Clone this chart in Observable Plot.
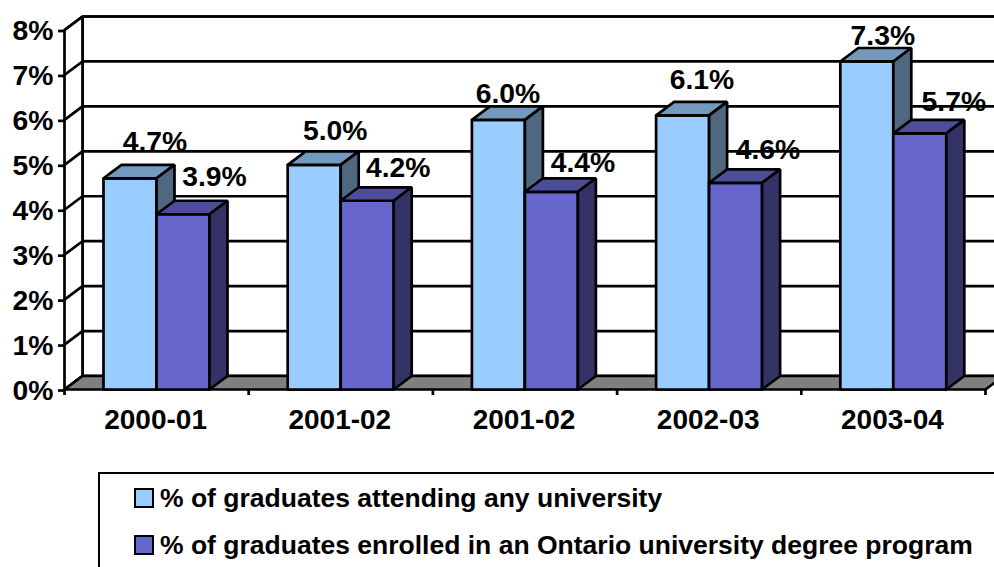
<!DOCTYPE html>
<html><head><meta charset="utf-8">
<script src="https://cdn.jsdelivr.net/npm/d3@7"></script>
<script src="https://cdn.jsdelivr.net/npm/@observablehq/plot@0.6"></script>
<style>
html,body{margin:0;padding:0;background:#fff;overflow:hidden;width:994px;height:567px}
#legend{position:absolute;left:98px;top:472px;width:1000px;height:200px;border:2px solid #000;box-sizing:border-box;font:bold 26.5px "Liberation Sans",Arial,sans-serif;color:#000}
.row{position:absolute;left:60px;white-space:nowrap;line-height:28px;height:28px}
.sw{position:absolute;left:-26px;top:4px;width:20px;height:20px;border:2.5px solid #000;box-sizing:border-box}
</style></head><body>
<div id="chart"></div>
<div id="legend"></div>
<script>
const categories = ["2000-01","2001-02","2001-02","2002-03","2003-04"];
const anyUniversity = [4.7,5.0,6.0,6.1,7.3];
const ontarioDegree = [3.9,4.2,4.4,4.6,5.7];
const seriesNames = ["% of graduates attending any university","% of graduates enrolled in an Ontario university degree program"];
const yTicks = [0,1,2,3,4,5,6,7,8];
const xBoundaries = [0,1,2,3,4,5];
const barColors = ["#99CCFF","#6666CC"];
const topColors = ["#7399BF","#4D4D99"];
const sideColors = ["#4F6880","#333366"];
const labelNudgesX = [[25,21,9.6,19.4,16],[31.5,31,31.6,32.4,34]];
const labelNudgesY = [[-36,-33.5,-25.6,-35,-26],[-37,-33,-29,-32.5,-31]];

const FONT = '"Liberation Sans",Arial,sans-serif';
const depthX = 18/184.2, depthY = 0.3, barW = 53/184.2, barStart = 39/184.2, maxY = 8;
const SW = 2.7;

function poly(rows, id, fill, pts){
  [...pts, pts[0]].forEach(([x,y]) => rows.push({id, fill, x, y}));
}
const wall = [], floor = [], bars = [];
poly(wall,"back","#fff",[[depthX,depthY],[5+depthX,depthY],[5+depthX,maxY+depthY],[depthX,maxY+depthY]]);
poly(wall,"left","#fff",[[0,0],[depthX,depthY],[depthX,maxY+depthY],[0,maxY]]);
poly(floor,"floor","#808080",[[0,0],[5,0],[5+depthX,depthY],[depthX,depthY]]);
const series = [anyUniversity, ontarioDegree];
categories.forEach((c,i) => {
  series.forEach((vals,s) => {
    const v = vals[i], x0 = i+barStart+s*barW, x1 = x0+barW, id = `${i}-${s}`;
    poly(bars,id+"f",barColors[s],[[x0,0],[x1,0],[x1,v],[x0,v]]);
    poly(bars,id+"t",topColors[s],[[x0,v],[x1,v],[x1+depthX,v+depthY],[x0+depthX,v+depthY]]);
    poly(bars,id+"s",sideColors[s],[[x1,0],[x1+depthX,depthY],[x1+depthX,v+depthY],[x1,v]]);
  });
});
const polyMark = rows => Plot.line(rows,{x:"x",y:"y",z:"id",fill:"fill",stroke:"#000",strokeWidth:SW,strokeLinejoin:"miter"});
const gridBack = yTicks.map(t => ({x1:depthX,x2:5+depthX,y:t+depthY}));
const gridSide = yTicks.map(t => ({x1:0,y1:t,x2:depthX,y2:t+depthY}));
const labels = [];
series.forEach((vals,s) => vals.forEach((v,i) => labels.push({
  x:i+barStart+barW*(s+.5), y:v, text:v.toFixed(1)+"%", dx:labelNudgesX[s][i], dy:labelNudgesY[s][i]
})));

const plot = Plot.plot({
  width:994, height:460,
  marginLeft:64, marginRight:9, marginTop:29.5, marginBottom:71,
  x:{type:"linear",domain:[0,5]},
  y:{type:"linear",domain:[0,maxY]},
  color:{type:"identity"},
  style:{fontFamily:FONT,fontWeight:"bold",background:"transparent",color:"#000"},
  marks:[
    polyMark(wall),
    Plot.link(gridBack,{x1:"x1",x2:"x2",y1:"y",y2:"y",stroke:"#000",strokeWidth:SW}),
    Plot.link(gridSide,{x1:"x1",x2:"x2",y1:"y1",y2:"y2",stroke:"#000",strokeWidth:SW}),
    polyMark(floor),
    polyMark(bars),
    Plot.axisY({ticks:yTicks,tickSize:6,tickPadding:5,tickFormat:d=>d+"%",fontSize:28.3,fontWeight:"bold",label:null,stroke:"#000",strokeWidth:SW,fill:"#000",dy:1}),
    Plot.axisX({ticks:xBoundaries,tickSize:6,tickFormat:()=>"",label:null,stroke:"#000",strokeWidth:SW}),
    Plot.axisX({ticks:categories.map((c,i)=>i+.5),tickSize:0,tickPadding:20,dx:-1,tickFormat:d=>categories[Math.floor(d)],fontSize:28,fontWeight:"bold",label:null,fill:"#000"}),
    ...labels.map(l => Plot.text([l],{x:"x",y:"y",text:"text",dx:l.dx,dy:l.dy,fontSize:28.3,fontWeight:"bold",fill:"#000"}))
  ]
});
document.getElementById("chart").append(plot);
const lg = document.getElementById("legend");
seriesNames.forEach((n,i) => {
  const r = document.createElement("div"); r.className="row"; r.style.top=(i?57:10)+"px"; r.textContent=n;
  const s = document.createElement("span"); s.className="sw"; s.style.background=barColors[i]; r.prepend(s);
  lg.append(r);
});
</script>
</body></html>
